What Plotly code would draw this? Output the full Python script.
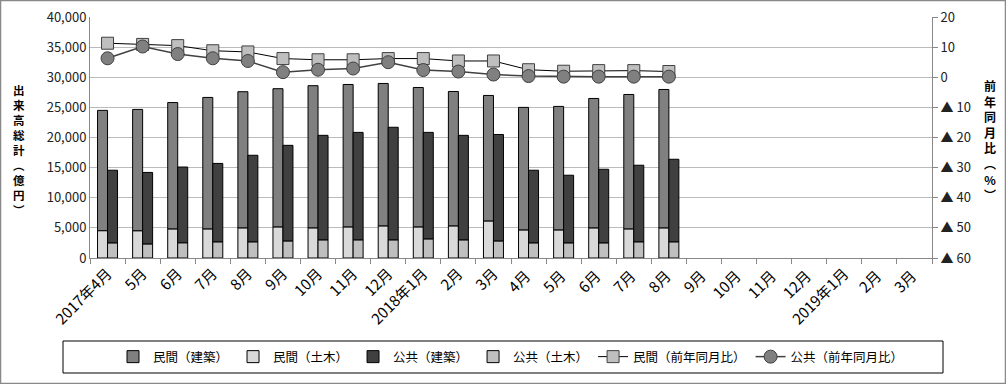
import plotly.graph_objects as go

months = ["2017年4月", "5月", "6月", "7月", "8月", "9月", "10月", "11月", "12月",
          "2018年1月", "2月", "3月", "4月 ", "5月 ", "6月 ", "7月 ", "8月 ", "9月 ",
          "10月 ", "11月 ", "12月 ", "2019年1月", "2月 ", "3月 "]

# 億円 (values for the first 17 months; rest not yet available)
minkan_total = [24500, 24660, 25800, 26650, 27600, 28100, 28600, 28800, 28970,
                28300, 27640, 26980, 25000, 25160, 26480, 27140, 27970]
minkan_doboku = [4520, 4500, 4800, 4800, 4970, 5130, 4970, 5130, 5300,
                 5130, 5300, 6120, 4630, 4630, 4970, 4800, 4970]
koukyo_total = [14570, 14200, 15100, 15700, 17050, 18700, 20360, 20850, 21700,
                20850, 20360, 20500, 14570, 13740, 14730, 15400, 16390]
koukyo_doboku = [2480, 2300, 2500, 2650, 2650, 2800, 2980, 2980, 2980,
                 3140, 2980, 2800, 2480, 2480, 2480, 2650, 2650]

# 前年同月比 (%)
minkan_yoy = [11.3, 10.9, 10.5, 8.8, 8.4, 6.2, 5.8, 5.8, 6.2,
              6.2, 5.4, 5.4, 2.5, 2.0, 2.2, 2.2, 1.9]
koukyo_yoy = [6.3, 10.2, 7.7, 6.3, 5.4, 1.7, 2.5, 2.9, 5.0,
              2.4, 1.9, 0.9, 0.4, 0.2, 0.2, 0.2, 0.2]

right_tickvals = [20, 10, 0, -10, -20, -30, -40, -50, -60]
right_ticktext = ["20", "10", "0", "▲ 10", "▲ 20", "▲ 30", "▲ 40", "▲ 50", "▲ 60"]

n = len(minkan_total)
x = months[:n]
minkan_kenchiku = [t - d for t, d in zip(minkan_total, minkan_doboku)]
koukyo_kenchiku = [t - d for t, d in zip(koukyo_total, koukyo_doboku)]

FONT = "Noto Sans CJK JP"
W, H = 1006, 384
ML, MR, MT, MB = 90, 74, 17, 126
PW, PH = W - ML - MR, H - MT - MB

def px(xp):
    return (xp - ML) / PW

def py(yp):
    return (H - MB - yp) / PH

bw = 0.285
line = dict(color="black", width=1)

fig = go.Figure()
fig.add_trace(go.Bar(x=x, y=minkan_kenchiku, base=minkan_doboku, name="民間（建築）",
                     marker=dict(color="#808080", line=line), width=bw, offset=-bw))
fig.add_trace(go.Bar(x=x, y=minkan_doboku, name="民間（土木）",
                     marker=dict(color="#d9d9d9", line=line), width=bw, offset=-bw))
fig.add_trace(go.Bar(x=x, y=koukyo_kenchiku, base=koukyo_doboku, name="公共（建築）",
                     marker=dict(color="#404040", line=line), width=bw, offset=0))
fig.add_trace(go.Bar(x=x, y=koukyo_doboku, name="公共（土木）",
                     marker=dict(color="#bfbfbf", line=line), width=bw, offset=0))
fig.add_trace(go.Scatter(x=x, y=minkan_yoy, name="民間（前年同月比）", yaxis="y2",
                         mode="lines+markers", line=dict(color="black", width=1),
                         marker=dict(symbol="square", size=12, color="#bfbfbf",
                                     line=dict(color="#404040", width=1))))
fig.add_trace(go.Scatter(x=x, y=koukyo_yoy, name="公共（前年同月比）", yaxis="y2",
                         mode="lines+markers", line=dict(color="#404040", width=1.5),
                         marker=dict(symbol="circle", size=13, color="#808080",
                                     line=dict(color="#404040", width=1))))

annotations = [
    dict(text="<b>" + "<br>".join("出来高総計︵億円︶") + "</b>", xref="paper", yref="paper",
         x=px(19), y=py(150), showarrow=False, xanchor="center", yanchor="middle",
         font=dict(family=FONT, size=11.5, color="black")),
    dict(text="<b>" + "<br>".join("前年同月比︵%︶") + "</b>", xref="paper", yref="paper",
         x=px(990), y=py(140), showarrow=False, xanchor="center", yanchor="middle",
         font=dict(family=FONT, size=12, color="black")),
]

shapes = [
    dict(type="rect", xref="paper", yref="paper", x0=px(0.5), x1=px(1005.5), y0=py(383.5), y1=py(0.5),
         line=dict(color="#888888", width=1.5), layer="below"),
    dict(type="rect", xref="paper", yref="paper", x0=px(63), x1=px(943), y0=py(373), y1=py(341),
         line=dict(color="black", width=1)),
]

fig.update_layout(
    width=W, height=H,
    margin=dict(l=ML, r=MR, t=MT, b=MB, autoexpand=False),
    paper_bgcolor="white", plot_bgcolor="white",
    barmode="overlay",
    font=dict(family=FONT, size=13, color="#222222"),
    showlegend=True,
    legend=dict(orientation="h", x=0.5, xanchor="center", y=py(357), yanchor="middle",
                font=dict(family=FONT, size=12.5, color="black"), bgcolor="rgba(0,0,0,0)",
                traceorder="normal", itemwidth=30),
    xaxis=dict(categoryorder="array", categoryarray=months, type="category",
               range=[-0.5, len(months) - 0.5], tickangle=-45, ticks="outside",
               tickson="boundaries", ticklen=5, tickcolor="#888888", automargin=False,
               showline=True, linecolor="#888888", linewidth=1,
               tickfont=dict(family=FONT, size=15, color="black"), showgrid=False),
    yaxis=dict(range=[0, 40000], dtick=5000, tickformat=",", showgrid=True, automargin=False,
               gridcolor="#bbbbbb", gridwidth=1, showline=True, linecolor="#888888",
               tickfont=dict(family=FONT, size=13, color="#222222"), zeroline=False),
    yaxis2=dict(range=[-60, 20], overlaying="y", side="right", tickvals=right_tickvals,
                ticktext=right_ticktext, showgrid=False, showline=True, linecolor="#888888",
                ticks="outside", ticklen=5, tickcolor="#888888", zeroline=False, automargin=False,
                tickfont=dict(family=FONT, size=13, color="#222222")),
    annotations=annotations,
    shapes=shapes,
)

fig.write_html("out.html", config={"displayModeBar": False},
               post_script="document.body.style.margin='0';document.body.style.padding='0';")
